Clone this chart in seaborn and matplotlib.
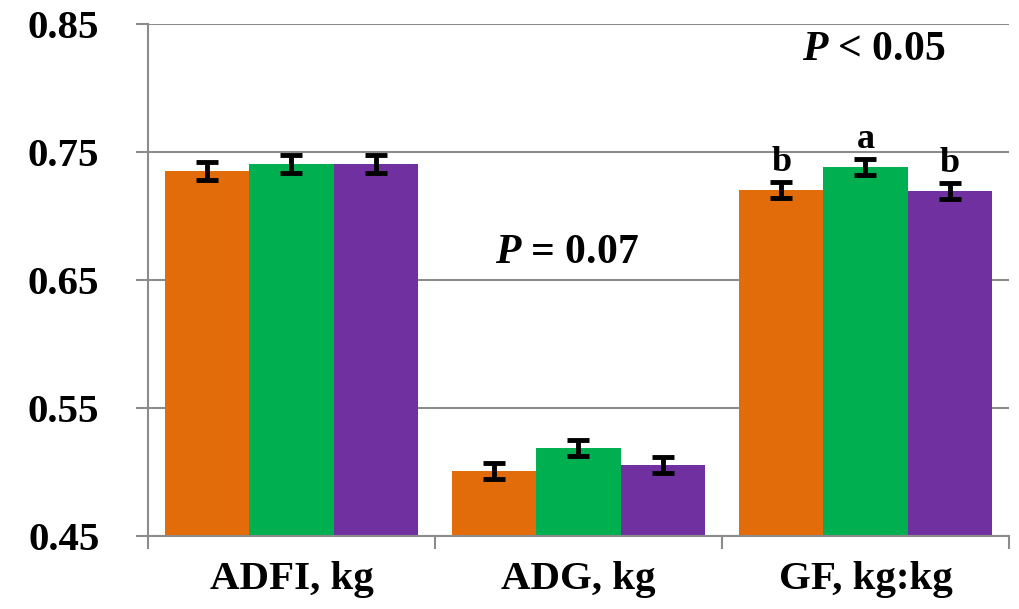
import numpy as np
import pandas as pd
import matplotlib
matplotlib.use('Agg')
import matplotlib.pyplot as plt
import seaborn as sns

# valores
categories = ['ADFI, kg', 'ADG, kg', 'GF, kg:kg']
groups = ['T1', 'T2', 'T3']
t1_values = [0.7352, 0.5008, 0.7203]
t2_values = [0.7406, 0.5188, 0.7383]
t3_values = [0.7406, 0.5055, 0.7195]
t1_sem = [0.0072, 0.0065, 0.0062]
t2_sem = [0.0072, 0.0065, 0.0062]
t3_sem = [0.0072, 0.0065, 0.0062]
gf_letters = ['b', 'a', 'b']
colors = ['#E36C0A', '#00B050', '#7030A0']
grey = '#8c8c8c'

df = pd.DataFrame({
    'trait': categories * 3,
    'group': np.repeat(groups, len(categories)),
    'value': t1_values + t2_values + t3_values,
    'sem': t1_sem + t2_sem + t3_sem,
})

sns.set_style('white')
plt.rcParams['font.family'] = ['Liberation Serif', 'DejaVu Serif']
plt.rcParams['font.weight'] = 'bold'
plt.rcParams['text.color'] = 'black'
plt.rcParams['xtick.labelcolor'] = 'black'
plt.rcParams['ytick.labelcolor'] = 'black'
plt.rcParams['mathtext.fontset'] = 'custom'
plt.rcParams['mathtext.it'] = 'Liberation Serif:italic:bold'
plt.rcParams['mathtext.rm'] = 'Liberation Serif:bold'
plt.rcParams['mathtext.bf'] = 'Liberation Serif:bold'

fig = plt.figure(figsize=(10.2, 6.09), dpi=100)
ax = fig.add_axes([0.1451, 0.1199, 0.8441, 0.8407])

sns.barplot(data=df, x='trait', y='value', hue='group', palette=colors,
            width=0.88, gap=0, errorbar=None, saturation=1, legend=False,
            linewidth=0, ax=ax)

# barras de error y letras
for cont, g in zip(ax.containers, groups):
    sub = df[df['group'] == g]
    xs = [p.get_x() + p.get_width() / 2 for p in cont]
    ys = [p.get_height() for p in cont]
    ax.errorbar(xs, ys, yerr=sub['sem'].values, fmt='none', ecolor='black',
                elinewidth=3.5, capsize=8, capthick=3.5, zorder=5)
    i = groups.index(g)
    ax.annotate(gf_letters[i], (xs[2], ys[2] + sub['sem'].values[2]),
                textcoords='offset points', xytext=(0, 8), ha='center',
                va='baseline', fontsize=26, fontweight='bold', color='black')

ax.text(0.96, 0.6633, r'$P$ = 0.07', ha='center', va='baseline',
        fontsize=30, fontweight='bold', color='black')
ax.text(2.03, 0.8219, r'$P$ < 0.05', ha='center', va='baseline',
        fontsize=30, fontweight='bold', color='black')

ax.set_xlim(-0.5, 2.5)
ax.set_ylim(0.45, 0.85)
ax.set_yticks(np.arange(0.45, 0.86, 0.1))
ax.set_yticklabels([f'{v:.2f}' for v in np.arange(0.45, 0.86, 0.1)])
ax.set_xticks([-0.5, 0.5, 1.5, 2.5], minor=True)
ax.set_xlabel('')
ax.set_ylabel('')
ax.yaxis.grid(True, color=grey, linewidth=1.5)
ax.set_axisbelow(True)

for s in ['top', 'right']:
    ax.spines[s].set_visible(False)
for s in ['left', 'bottom']:
    ax.spines[s].set_color(grey)
    ax.spines[s].set_linewidth(1.5)

ax.tick_params(axis='y', length=9, width=1.5, color=grey, labelsize=29.5,
               pad=26, left=True, labelcolor='black')
ax.tick_params(axis='x', which='major', length=0, labelsize=29.5, pad=18,
               labelcolor='black')
ax.tick_params(axis='x', which='minor', length=9, width=1.5, color=grey,
               direction='out', bottom=True)

fig.savefig('out.png', dpi=100)
